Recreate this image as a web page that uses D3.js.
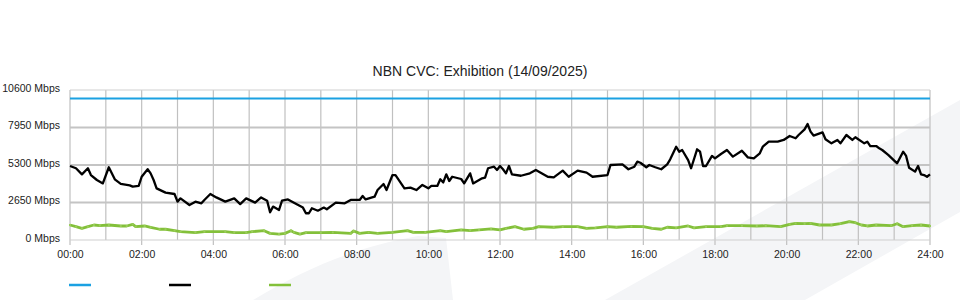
<!DOCTYPE html>
<html>
<head>
<meta charset="utf-8">
<script src="https://cdn.jsdelivr.net/npm/d3@7"></script>
<style>
  body { margin: 0; background: #fff; }
  text { font-family: "Liberation Sans", Arial, sans-serif; }
</style>
</head>
<body>
<script>
// chart values
var chartTitle = "NBN CVC: Exhibition (14/09/2025)";
var yTicks = [0, 2650, 5300, 7950, 10600];
var xTickLabels = ["00:00","02:00","04:00","06:00","08:00","10:00","12:00","14:00","16:00","18:00","20:00","22:00","24:00"];

// capacity (blue)
var capTimes = ["00:00", "24:00"];
var capValues = [10000, 10000];

// download traffic (black)
var downTimes = ["00:00","00:10","00:20","00:30","00:35","00:45","00:55","01:05","01:15","01:25",
  "01:40","01:45","01:55","02:00","02:10","02:15","02:20","02:25","02:40","02:55",
  "03:00","03:05","03:20","03:30","03:40","03:45","03:55","04:05","04:20","04:35",
  "04:45","04:55","05:10","05:20","05:30","05:35","05:40","05:50","05:55","06:05",
  "06:15","06:30","06:35","06:40","06:45","06:55","07:05","07:10","07:25","07:40",
  "07:50","08:05","08:10","08:15","08:30","08:35","08:45","08:50","09:00","09:05",
  "09:20","09:30","09:40","09:50","10:00","10:05","10:15","10:20","10:25","10:30",
  "10:35","10:40","10:55","11:00","11:05","11:10","11:15","11:20","11:30","11:35",
  "11:40","11:50","11:55","12:00","12:05","12:10","12:15","12:20","12:35","12:50",
  "13:00","13:20","13:30","13:45","13:55","14:10","14:25","14:35","15:00","15:05",
  "15:25","15:35","15:45","15:50","15:55","16:05","16:10","16:20","16:30","16:40",
  "16:45","16:55","17:00","17:05","17:15","17:20","17:30","17:35","17:40","17:45",
  "17:55","18:00","18:10","18:20","18:30","18:45","18:55","19:05","19:15","19:20",
  "19:30","19:45","19:55","20:05","20:15","20:20","20:30","20:35","20:40","20:45",
  "21:00","21:05","21:15","21:25","21:30","21:40","21:50","21:55","22:10","22:15",
  "22:20","22:30","22:35","22:40","22:50","23:05","23:15","23:20","23:25","23:35",
  "23:40","23:45","23:50","23:55","24:00"];
var downValues = [5230,5070,4640,5070,4590,4240,4000,5140,4290,3960,
  3860,3770,3820,4470,5000,4710,4240,3650,3350,3250,
  2710,2940,2470,2710,2590,2830,3250,3010,2710,2940,
  2540,2940,2640,3010,2780,1960,2360,2120,2780,2870,
  2640,2290,1890,1890,2240,2070,2290,2170,2640,2590,
  2830,2830,3110,2870,3060,3530,3960,3530,4590,4590,
  3650,3700,3530,3890,3650,3820,3820,4290,4070,4640,
  4170,4470,4310,4000,4360,4710,4000,4120,4360,4410,
  5070,5180,4950,5230,5000,4710,5230,4640,4540,4710,
  4950,4470,4430,4900,4470,4900,4760,4470,4590,5300,
  5350,5000,5180,5540,5460,5140,5300,5140,5000,5350,
  5700,6590,6240,6360,5650,5070,6410,6240,5230,5230,
  5940,5770,6080,6360,5890,6310,5840,5770,6130,6590,
  6950,6950,7070,7350,7190,7420,7820,8200,7660,7380,
  7610,7120,6830,7070,6830,7420,7070,7260,6830,6950,
  6640,6640,6480,6360,6010,5420,6240,5940,5100,4830,
  5230,4640,4590,4470,4640];

// upload traffic (green)
var upTimes = ["00:00","00:10","00:20","00:30","00:40","00:50","01:05","01:25","01:35","01:45",
  "01:50","02:05","02:15","02:30","02:40","02:55","03:05","03:30","03:45","04:20",
  "04:35","04:55","05:05","05:25","05:35","05:50","06:00","06:10","06:15","06:25",
  "06:35","07:00","07:20","07:50","07:55","08:05","08:20","08:35","09:00","09:25",
  "09:35","09:55","10:20","10:30","10:55","11:10","11:25","11:45","12:00","12:10",
  "12:25","12:40","12:55","13:05","13:30","13:45","14:10","14:25","14:40","15:00",
  "15:15","15:40","16:00","16:15","16:30","16:40","16:55","17:15","17:25","17:45",
  "18:10","18:20","18:45","19:10","19:25","19:50","20:05","20:15","20:30","20:40",
  "20:55","21:15","21:30","21:45","21:55","22:05","22:15","22:30","22:55","23:05",
  "23:15","23:30","23:45","24:00"];
var upValues = [1060,940,820,940,1060,1010,1060,990,990,1110,
  940,990,900,760,760,660,590,520,590,590,
  520,520,590,660,470,420,470,660,540,420,
  520,520,540,470,640,470,540,470,540,660,
  540,540,660,590,710,660,710,780,710,820,
  940,760,820,940,900,940,940,820,860,940,
  900,960,940,820,760,900,860,990,860,940,
  940,1010,1010,990,1010,940,1110,1180,1150,1180,
  1060,1060,1150,1300,1220,1060,990,1060,1010,1150,
  940,1010,1060,990];

var seriesColors = ["#1ba1e2", "#000000", "#83c03a"];

// layout
var svg_Width = 960, svg_Height = 300;
var margin = { top: 90, right: 30, bottom: 60, left: 70 };
var chart_Width = svg_Width - margin.left - margin.right;
var chart_Height = svg_Height - margin.top - margin.bottom;

function toMinutes(t) {
  var p = t.split(":");
  return (+p[0]) * 60 + (+p[1]);
}
function makeSeries(times, values) {
  return times.map(function(t, i) { return { m: toMinutes(t), v: values[i] }; });
}

var svg = d3.select("body").append("svg")
  .attr("width", svg_Width)
  .attr("height", svg_Height);

// faint background logo shapes
svg.append("path")
  .attr("d", "M253,300 C300,272 350,248 418,236 L446,238 L453,300 Z")
  .attr("fill", "#f4f5f7");
svg.append("path")
  .attr("d", "M605,300 L960,100 L960,212 L805,300 Z")
  .attr("fill", "#f4f5f7");

var x = d3.scaleLinear().domain([0, 1440]).range([0, chart_Width]);
var y = d3.scaleLinear().domain([0, 10600]).range([chart_Height, 0]);

var chartGroup = svg.append("g")
  .attr("transform", `translate(${margin.left}, ${margin.top})`);

// vertical hourly grid lines
var hours = d3.range(0, 1441, 60);
chartGroup.selectAll(".vgrid")
  .data(hours)
  .enter().append("line")
  .attr("class", "vgrid")
  .attr("x1", d => x(d)).attr("x2", d => x(d))
  .attr("y1", 0)
  .attr("y2", d => d % 120 === 0 ? chart_Height + 5 : chart_Height)
  .attr("stroke", "#c0c0c0")
  .attr("stroke-width", 1.2);

// horizontal grid lines
chartGroup.selectAll(".hgrid")
  .data(yTicks)
  .enter().append("line")
  .attr("class", "hgrid")
  .attr("x1", 0).attr("x2", chart_Width)
  .attr("y1", d => y(d)).attr("y2", d => y(d))
  .attr("stroke", d => d === 0 || d === 10600 ? "#cfcfcf" : "#c4c4c4")
  .attr("stroke-width", d => d === 0 || d === 10600 ? 1 : 2);

// y labels
var left_Axis = d3.axisLeft(y).tickValues(yTicks).tickSize(0).tickPadding(10)
  .tickFormat(d => d + " Mbps");
var yAxisG = chartGroup.append("g").call(left_Axis);
yAxisG.select(".domain").remove();
yAxisG.selectAll("text").attr("font-size", 10.5).attr("fill", "#222")
  .attr("dy", "0.12em")
  .style("font-family", "'Liberation Sans', Arial, sans-serif");

// x labels
var bottom_Axis = d3.axisBottom(x).tickValues(d3.range(0, 1441, 120)).tickSize(0).tickPadding(11)
  .tickFormat((d, i) => xTickLabels[i]);
var xAxisG = chartGroup.append("g")
  .attr("transform", `translate(0, ${chart_Height})`)
  .call(bottom_Axis);
xAxisG.select(".domain").remove();
xAxisG.selectAll("text").attr("font-size", 10.5).attr("fill", "#222")
  .style("font-family", "'Liberation Sans', Arial, sans-serif");

// lines
var line = d3.line().x(d => x(d.m)).y(d => y(d.v));
var allSeries = [
  makeSeries(capTimes, capValues),
  makeSeries(downTimes, downValues),
  makeSeries(upTimes, upValues)
];
var lineWidths = [2, 2.3, 2.8];
var drawOrder = [2, 1, 0];
drawOrder.forEach(function(i) {
  chartGroup.append("path")
    .datum(allSeries[i])
    .attr("fill", "none")
    .attr("stroke", seriesColors[i])
    .attr("stroke-width", lineWidths[i])
    .attr("stroke-linejoin", "round")
    .attr("d", line);
});

// small point markers on the upload series
chartGroup.selectAll(".upmark")
  .data(allSeries[2])
  .enter().append("rect")
  .attr("class", "upmark")
  .attr("x", d => x(d.m) - 1)
  .attr("y", d => y(d.v) - 1)
  .attr("width", 2).attr("height", 2)
  .attr("fill", "#9acd5a");

// title
svg.append("text")
  .attr("x", 480)
  .attr("y", 76)
  .attr("text-anchor", "middle")
  .attr("font-size", 14)
  .attr("fill", "#222")
  .text(chartTitle);

// legend swatches
var legend = svg.append("g").attr("transform", "translate(69, 285)");
seriesColors.forEach(function(c, i) {
  legend.append("line")
    .attr("x1", i * 100).attr("x2", i * 100 + 22)
    .attr("y1", 0).attr("y2", 0)
    .attr("stroke", c)
    .attr("stroke-width", 2.5);
});
</script>
</body>
</html>
